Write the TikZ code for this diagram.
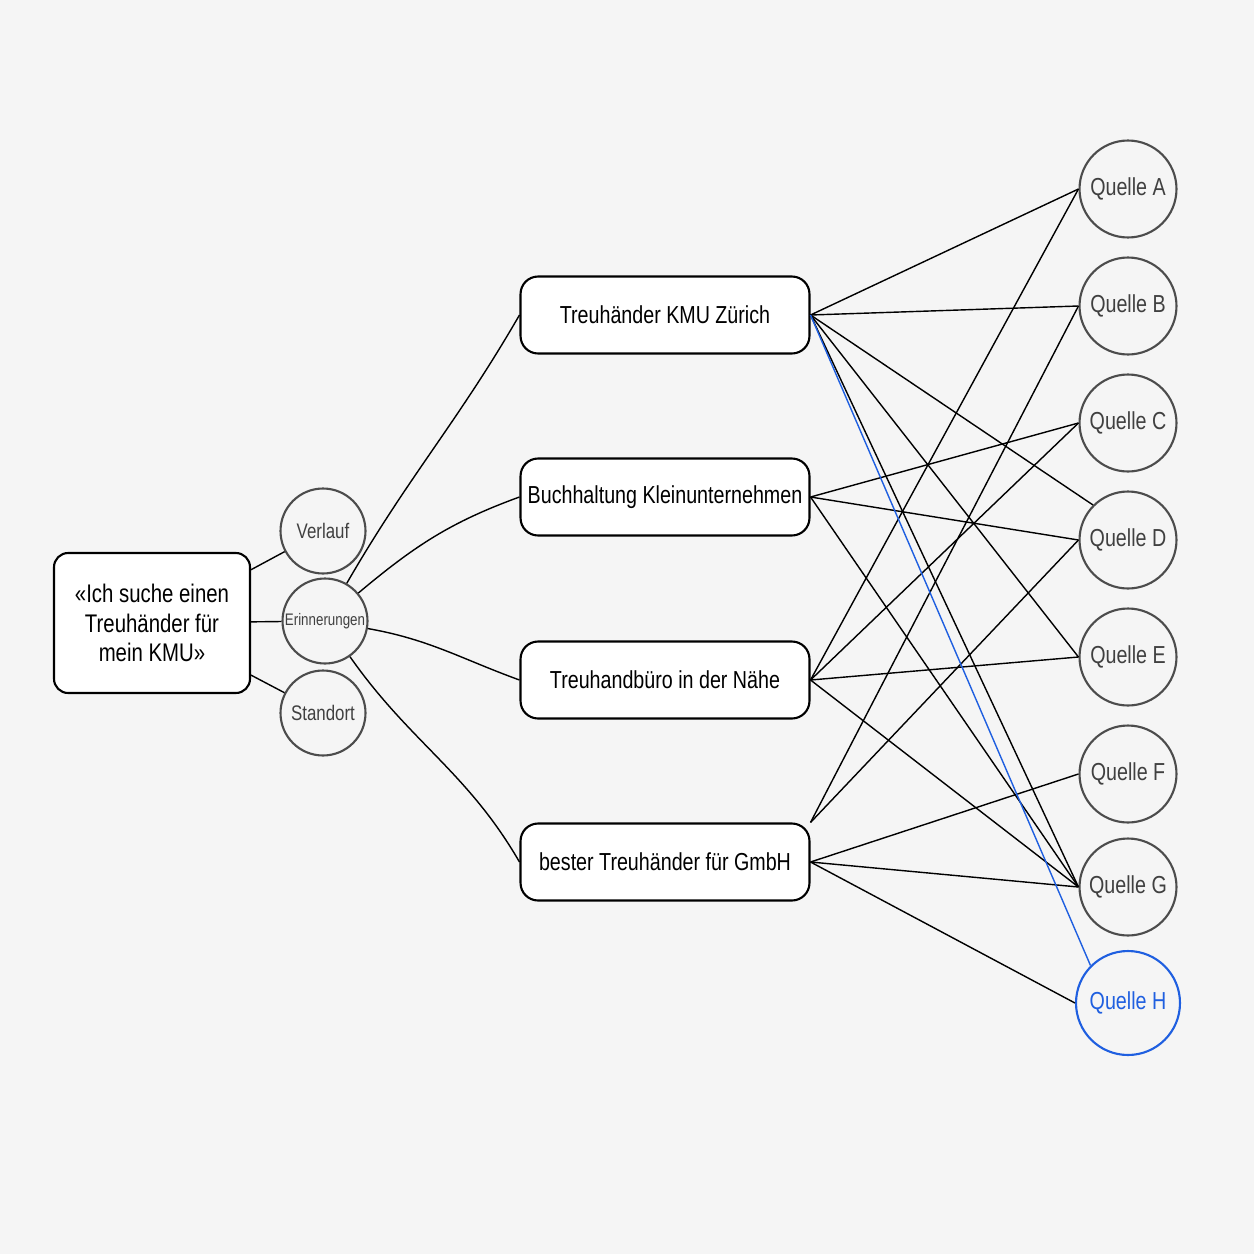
\documentclass[tikz,border=0pt]{standalone}
\usepackage{fontspec}
\setmainfont{Liberation Sans}[FakeStretch=0.8]
\usetikzlibrary{arrows.meta}
\definecolor{bgGray}{HTML}{F5F5F5}
\definecolor{srcBlue}{HTML}{1F5FE0}
\tikzset{
    % node styles
    base/.style = {draw, line width=1.2pt, fill=white, text centered, font=\sffamily},
    query/.style = {base, rectangle, rounded corners=8pt, minimum width=3.92cm, minimum height=2.8cm, align=center, font=\fontsize{14.5}{17}\selectfont},
    memory/.style = {base, circle, draw=black!70, fill=bgGray, minimum size=1.7cm, inner sep=0pt, text=black!75, font=\fontsize{12}{14}\selectfont},
    search/.style = {base, rectangle, rounded corners=10pt, minimum width=5.78cm, minimum height=1.54cm, font=\fontsize{14}{16}\selectfont},
    source/.style = {base, circle, draw=black!70, fill=bgGray, minimum size=1.94cm, inner sep=0pt, text=black!75, font=\fontsize{14}{16}\selectfont},
    picked/.style = {source, draw=srcBlue, text=srcBlue, minimum size=2.08cm},
    link/.style = {line width=0.8pt}
}
\begin{document}
\begin{tikzpicture}[x=0.02cm, y=-0.02cm]
    \fill[bgGray] (0,0) rectangle (1254,1254);
    \useasboundingbox (0,0) rectangle (1254,1254);
    % query and memory
    \node[query] (query) at (152,623) {«Ich suche einen\\Treuhänder für\\mein KMU»};
    \node[memory] (verlauf) at (323,531) {Verlauf};
    \node[memory, font=\fontsize{9.5}{11}\selectfont] (erinnerungen) at (325,621) {Erinnerungen};
    \node[memory] (standort) at (323,713) {Standort};
    % search queries
    \node[search] (kmu) at (665,315) {Treuhänder KMU Zürich};
    \node[search] (buch) at (665,497) {Buchhaltung Kleinunternehmen};
    \node[search] (buero) at (665,680) {Treuhandbüro in der Nähe};
    \node[search] (gmbh) at (665,862) {bester Treuhänder für GmbH};
    % sources
    \foreach \name/\y in {A/189, B/306, C/423, D/540, E/657, F/774, G/887}
        \node[source] (q\name) at (1128,\y) {Quelle \name};
    \node[picked] (qH) at (1128,1003) {Quelle H};
    % connectors
    \draw[link] (query) -- (verlauf);
    \draw[link] (query) -- (erinnerungen);
    \draw[link] (query) -- (standort);
    \draw[link] (erinnerungen) to[out=60, in=240] (kmu.west);
    \draw[link] (erinnerungen) to[out=40, in=200] (buch.west);
    \draw[link] (erinnerungen) to[out=-10, in=160] (buero.west);
    \draw[link] (erinnerungen) to[out=-55, in=120] (gmbh.west);
    \foreach \from/\to in {kmu/qA, kmu/qB, kmu/qE, kmu/qG,
                           buch/qC, buch/qD, buch/qG,
                           buero/qA, buero/qC, buero/qE, buero/qG,
                           gmbh/qF, gmbh/qG, gmbh/qH}
        \draw[link] (\from.east) -- (\to.west);
    \draw[link] (kmu.east) -- (qD.north west);
    \draw[link] (gmbh.north east) -- (qB.west);
    \draw[link] (gmbh.north east) -- (qD.west);
    \draw[link, srcBlue] (kmu.east) -- (qH.north west);
\end{tikzpicture}
\end{document}
